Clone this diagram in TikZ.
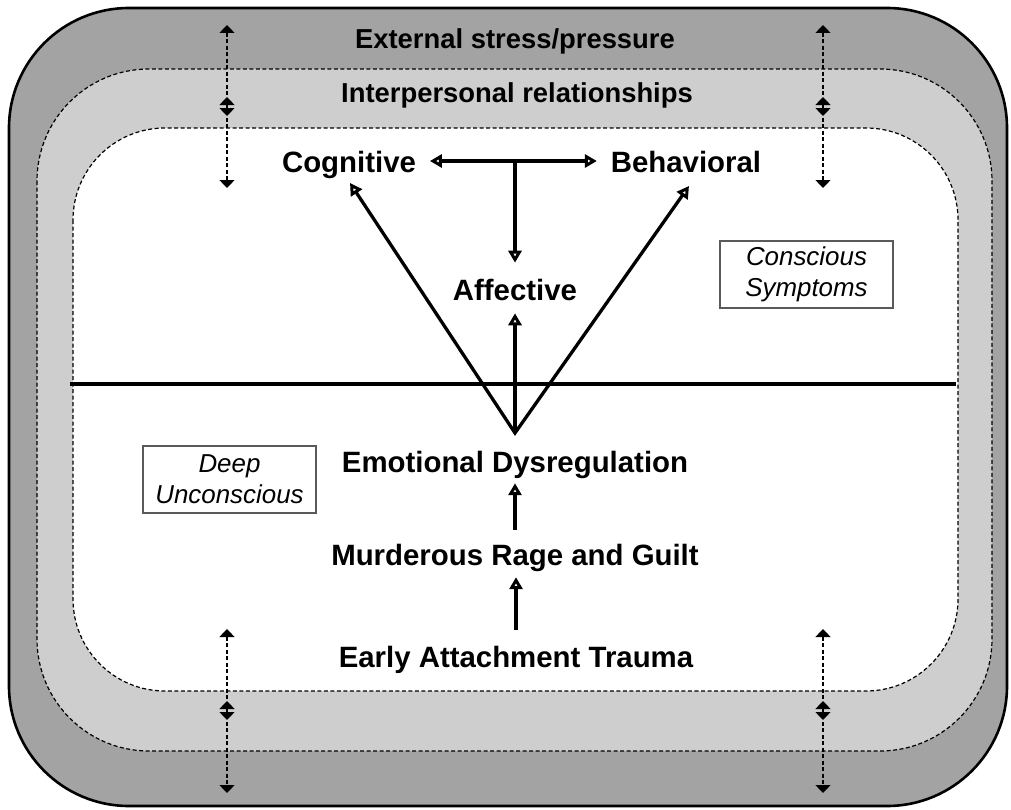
\documentclass[tikz,border=0pt]{standalone}
\usepackage{fontspec}
\setmainfont{Liberation Sans}
\usetikzlibrary{arrows.meta}
\definecolor{outergray}{RGB}{163,163,163}
\definecolor{midgray}{RGB}{206,206,206}
\definecolor{boxgray}{RGB}{90,90,90}
\begin{document}
\begin{tikzpicture}[x=1bp,y=-1bp,
  lbl/.style={font=\bfseries\fontsize{29.5}{32}\selectfont, inner sep=0pt, outer sep=0pt, anchor=base},
  ring/.style={font=\bfseries\fontsize{27.5}{30}\selectfont, inner sep=0pt, outer sep=0pt, anchor=base},
  note/.style={draw=boxgray, line width=1.3bp, font=\itshape\fontsize{26}{31}\selectfont, align=center, minimum width=173bp, minimum height=67bp, inner sep=0pt},
  sarrow/.style={line width=3.3bp, -{Triangle[open,length=12bp,width=13bp]}},
  varrow/.style={line width=3.3bp, line join=miter, {Triangle[open,length=12bp,width=13bp]}-{Triangle[open,length=12bp,width=13bp]}},
  harrow/.style={line width=3.3bp, {Triangle[open,length=12bp,width=13bp]}-{Triangle[open,length=12bp,width=13bp]}},
  darrow/.style={line width=1.3bp, dash pattern=on 4bp off 2.5bp, {Triangle[length=8bp,width=15bp]}-{Triangle[length=8bp,width=15bp]}},
  zone/.style={dash pattern=on 4bp off 2.5bp, line width=1.2bp}]
\useasboundingbox (0,0) rectangle (1011,810);
\fill[white] (0,0) rectangle (1011,810);
% zones
\draw[line width=2.6bp, fill=outergray, rounded corners=120bp] (9,8) rectangle (1007,806);
\draw[zone, fill=midgray, rounded corners=112bp] (37,69) rectangle (992,751);
\draw[zone, fill=white, rounded corners=92bp] (73,128) rectangle (958,691);
% boundary line
\coordinate (hl) at (70,384);
\coordinate (hr) at (956,384);
\draw[line width=3.2bp] (hl) -- (hr);
% dashed arrows
\foreach \x/\n in {227/l,823/r}{
  \coordinate (a1\n) at (\x,25);  \coordinate (a2\n) at (\x,116);
  \coordinate (b1\n) at (\x,97);  \coordinate (b2\n) at (\x,188);
  \coordinate (c1\n) at (\x,629); \coordinate (c2\n) at (\x,720);
  \coordinate (d1\n) at (\x,701); \coordinate (d2\n) at (\x,793);
  \draw[darrow] (a1\n) -- (a2\n);
  \draw[darrow] (b1\n) -- (b2\n);
  \draw[darrow] (c1\n) -- (c2\n);
  \draw[darrow] (d1\n) -- (d2\n);
}
% labels
\node[ring] (ext) at (515,49) {External stress/pressure};
\node[ring] (inter) at (517,102) {Interpersonal relationships};
\node[lbl] (cog) at (349,172) {Cognitive};
\node[lbl] (beh) at (686,172) {Behavioral};
\node[lbl] (aff) at (515,300) {Affective};
\node[lbl] (emo) at (515,472) {Emotional Dysregulation};
\node[lbl] (mur) at (515,565) {Murderous Rage and Guilt};
\node[lbl] (early) at (516,667) {Early Attachment Trauma};
\node[note] (cons) at (806.5,274.5) {Conscious\\Symptoms};
\node[note] (deep) at (229.5,479.5) {Deep\\Unconscious};
% connectors
\coordinate (j) at (515,161);
\coordinate (apex) at (515,433);
\coordinate (cogtip) at (350,183);
\coordinate (behtip) at (689,186);
\draw[harrow, shorten <=14bp, shorten >=14bp] (j -| cog.east) -- (j -| beh.west);
\draw[sarrow, shorten >=16bp] (j) -- (j |- aff.north);
\draw[sarrow, shorten >=13bp] (apex) -- (apex |- aff.south);
\draw[varrow] (cogtip) -- (apex) -- (behtip);
\draw[sarrow, shorten <=14bp, shorten >=5bp] (mur.north) -- (mur.north |- emo.south);
\draw[sarrow, shorten <=16bp, shorten >=6bp] (early.north) -- (early.north |- mur.south);
\end{tikzpicture}
\end{document}
